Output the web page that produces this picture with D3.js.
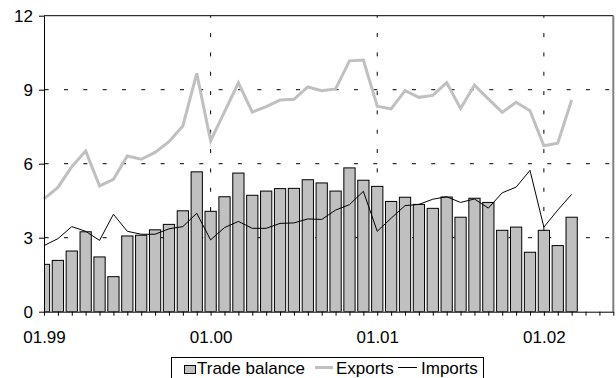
<!DOCTYPE html>
<html>
<head>
<meta charset="utf-8">
<script src="https://cdn.jsdelivr.net/npm/d3@7"></script>
<style>
  html, body { margin: 0; padding: 0; background: #fff; }
  svg { display: block; font-family: "Liberation Sans", Arial, sans-serif; }
</style>
</head>
<body>
<svg id="chart" width="616" height="378"></svg>
<script>
// ---- data ----
const years = ["99", "00", "01", "02"];
const months = [];
years.forEach(y => { for (let m = 1; m <= 12; m++) months.push(String(m).padStart(2, "0") + "." + y); });
const categories = months.slice(0, 42); // 01.99 .. 06.02 (axis extent)
const dataMonths = months.slice(0, 39); // 01.99 .. 03.02

const tradeBalance = [1.92, 2.08, 2.46, 3.24, 2.22, 1.42, 3.07, 3.10, 3.32, 3.54, 4.09, 5.67,
                      4.07, 4.66, 5.62, 4.72, 4.89, 4.99, 5.00, 5.35, 5.22, 4.89, 5.83, 5.33,
                      5.08, 4.47, 4.64, 4.35, 4.19, 4.65, 3.83, 4.60, 4.43, 3.30, 3.43, 2.41,
                      3.30, 2.68, 3.83];
const exportsV = [4.57, 5.04, 5.88, 6.51, 5.10, 5.37, 6.31, 6.18, 6.46, 6.89, 7.53, 9.66,
                  6.93, 8.10, 9.28, 8.09, 8.31, 8.58, 8.61, 9.11, 8.96, 9.03, 10.17, 10.20,
                  8.33, 8.22, 8.96, 8.69, 8.77, 9.29, 8.24, 9.18, 8.63, 8.08, 8.49, 8.15,
                  6.73, 6.83, 8.58];
const importsV = [2.68, 2.96, 3.45, 3.26, 2.89, 3.95, 3.26, 3.14, 3.14, 3.36, 3.45, 3.99,
                  2.91, 3.41, 3.66, 3.38, 3.38, 3.58, 3.60, 3.76, 3.74, 4.12, 4.34, 4.88,
                  3.26, 3.79, 4.30, 4.35, 4.56, 4.66, 4.43, 4.57, 4.20, 4.82, 5.05, 5.73,
                  3.43, 4.12, 4.76];
const yTicks = [0, 3, 6, 9, 12];
const gridX = ["01.00", "01.01", "01.02"];
const seriesNames = ["Trade balance", "Exports", "Imports"];

// ---- layout ----
const L = 44, R = 613.3, T = 15.7, B = 311.7;
const svg = d3.select("#chart");
const x = d3.scalePoint().domain(categories).range([L, R]).padding(0);
const y = d3.scaleLinear().domain([0, 12]).range([B, T]);
const step = x.step();
const barW = step * 0.81;

svg.append("defs").append("clipPath").attr("id", "plotclip")
  .append("rect").attr("x", L).attr("y", T - 5).attr("width", R - L).attr("height", B - T + 5);

// gridlines
const dash = "4,15.33";
svg.append("g").selectAll("line").data(yTicks.filter(v => v > 0 && v < 12)).join("line")
  .attr("x1", L).attr("x2", R).attr("y1", d => y(d)).attr("y2", d => y(d))
  .attr("stroke", "#000").attr("stroke-width", 1).attr("stroke-dasharray", dash)
  .attr("stroke-dashoffset", -0.67);
svg.append("g").selectAll("line").data(gridX).join("line")
  .attr("x1", d => x(d)).attr("x2", d => x(d)).attr("y1", B).attr("y2", T)
  .attr("stroke", "#000").attr("stroke-width", 1).attr("stroke-dasharray", dash)
  .attr("stroke-dashoffset", -4);

// bars
svg.append("g").attr("clip-path", "url(#plotclip)")
  .selectAll("rect").data(tradeBalance).join("rect")
  .attr("x", (d, i) => x(dataMonths[i]) - barW / 2)
  .attr("width", barW)
  .attr("y", d => y(d))
  .attr("height", d => y(0) - y(d))
  .attr("fill", "#c0c0c0").attr("stroke", "#000").attr("stroke-width", 1);

// lines
const line = d3.line().x((d, i) => x(dataMonths[i])).y(d => y(d));
svg.append("path").datum(exportsV).attr("d", line)
  .attr("fill", "none").attr("stroke", "#c0c0c0").attr("stroke-width", 3).attr("stroke-linejoin", "miter");
svg.append("path").datum(importsV).attr("d", line)
  .attr("fill", "none").attr("stroke", "#000").attr("stroke-width", 1);

// borders
svg.append("line").attr("x1", L).attr("x2", R).attr("y1", T).attr("y2", T)
  .attr("stroke", "#000").attr("stroke-width", 1);
svg.append("line").attr("x1", R).attr("x2", R).attr("y1", T).attr("y2", B)
  .attr("stroke", "#808080").attr("stroke-width", 2);

// axes
const yAxis = svg.append("g").attr("transform", `translate(${L},0)`)
  .call(d3.axisLeft(y).tickValues(yTicks).tickSize(5).tickPadding(6).tickSizeOuter(0));
const xAxis = svg.append("g").attr("transform", `translate(0,${B})`)
  .call(d3.axisBottom(x).tickValues(categories).tickSize(4).tickPadding(15).tickSizeOuter(0)
    .tickFormat(d => d.startsWith("01.") ? d : ""));
[yAxis, xAxis].forEach(g => {
  g.selectAll("text").attr("font-family", "'Liberation Sans', Arial, sans-serif")
    .attr("font-size", 17).attr("fill", "#000");
  g.selectAll("line, path").attr("stroke", "#000");
});

// legend
const lg = svg.append("g");
lg.append("rect").attr("x", 171.5).attr("y", 357.5).attr("width", 312).attr("height", 30)
  .attr("fill", "#fff").attr("stroke", "#000");
lg.append("rect").attr("x", 184.5).attr("y", 365.5).attr("width", 11).attr("height", 8)
  .attr("fill", "#c0c0c0").attr("stroke", "#000");
lg.append("line").attr("x1", 315).attr("x2", 333).attr("y1", 367.5).attr("y2", 367.5)
  .attr("stroke", "#c0c0c0").attr("stroke-width", 3);
lg.append("line").attr("x1", 398).attr("x2", 417).attr("y1", 367.5).attr("y2", 367.5)
  .attr("stroke", "#000").attr("stroke-width", 1);
const lx = [197, 336, 421];
lg.selectAll("text").data(seriesNames).join("text")
  .attr("x", (d, i) => lx[i]).attr("y", 374)
  .attr("font-size", 17).attr("fill", "#000").text(d => d);
</script>
</body>
</html>
